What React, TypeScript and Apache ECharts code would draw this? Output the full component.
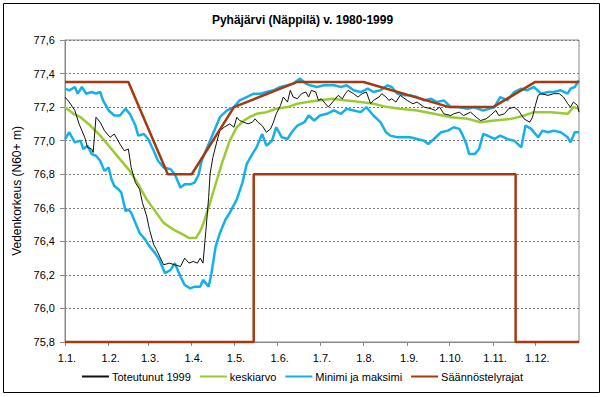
import React, { useEffect, useRef } from "react";
import * as echarts from "echarts";

const TITLE = "Pyhäjärvi (Näppilä) v. 1980-1999";
const Y_NAME = "Vedenkorkeus (N60+ m)";
const MONTH_DAYS = [31, 28, 31, 30, 31, 30, 31, 31, 30, 31, 30, 31];
const SERIES_NAMES = ["Toteutunut 1999", "keskiarvo", "Minimi ja maksimi", "Säännöstelyrajat"];
const Y_MIN = 75.8;
const Y_MAX = 77.6;
const Y_STEP = 0.2;

// [day of year index, level]
const actual1999: [number, number][] = [
  [0, 77.26], [3, 77.23], [7, 77.18], [10, 77.1], [14, 77.02], [16, 76.96], [19, 76.95], [20, 76.93],
  [22, 77.14], [25, 77.11], [28, 77.06], [32, 77.02], [35, 77.04], [39, 76.98], [42, 76.94], [45, 76.95],
  [47, 76.84], [50, 76.75], [53, 76.71], [55, 76.63], [58, 76.55], [60, 76.47], [63, 76.38], [65, 76.35],
  [70, 76.26], [74, 76.27], [78, 76.26], [82, 76.25], [85, 76.3], [88, 76.27], [91, 76.28], [94, 76.27],
  [96, 76.3], [98, 76.27], [100, 76.46], [102, 76.66], [103, 76.8], [105, 76.9], [108, 77.0], [110, 77.06],
  [113, 77.08], [117, 77.1], [120, 77.08], [122, 77.14], [124, 77.12], [127, 77.11], [130, 77.1], [133, 77.11],
  [135, 77.13], [137, 77.11], [140, 77.09], [143, 77.05], [146, 77.07], [148, 77.11], [150, 77.16], [153, 77.21],
  [155, 77.26], [158, 77.23], [160, 77.3], [162, 77.26], [165, 77.25], [168, 77.28], [171, 77.29], [173, 77.26],
  [175, 77.3], [178, 77.29], [180, 77.24], [182, 77.25], [185, 77.22], [187, 77.2], [191, 77.24], [194, 77.27],
  [197, 77.25], [199, 77.28], [201, 77.3], [205, 77.28], [208, 77.26], [211, 77.28], [214, 77.29], [217, 77.22],
  [219, 77.24], [223, 77.26], [225, 77.28], [228, 77.26], [230, 77.24], [232, 77.25], [235, 77.23], [238, 77.27],
  [243, 77.24], [247, 77.22], [250, 77.23], [255, 77.2], [260, 77.19], [263, 77.18], [266, 77.2], [269, 77.16],
  [274, 77.15], [276, 77.16], [280, 77.17], [283, 77.15], [288, 77.17], [292, 77.14], [295, 77.12], [299, 77.13],
  [302, 77.15], [306, 77.18], [308, 77.15], [312, 77.16], [315, 77.19], [319, 77.2], [322, 77.18], [326, 77.13],
  [330, 77.11], [332, 77.14], [334, 77.21], [336, 77.27], [338, 77.28], [343, 77.27], [347, 77.28], [351, 77.28],
  [354, 77.26], [357, 77.22], [359, 77.2], [361, 77.23], [364, 77.21], [365, 77.17],
];

const average: [number, number][] = [
  [0, 77.2], [6, 77.16], [11, 77.14], [18, 77.09], [25, 77.03], [32, 76.96], [39, 76.89], [46, 76.82],
  [52, 76.74], [58, 76.65], [64, 76.58], [70, 76.51], [77, 76.47], [84, 76.44], [88, 76.42], [93, 76.42],
  [96, 76.46], [98, 76.5], [103, 76.63], [108, 76.77], [112, 76.88], [117, 77.0], [122, 77.08], [127, 77.12],
  [131, 77.14], [136, 77.16], [143, 77.17], [150, 77.19], [158, 77.2], [165, 77.22], [172, 77.23], [180, 77.24],
  [190, 77.25], [200, 77.24], [210, 77.23], [219, 77.22], [229, 77.2], [238, 77.19], [250, 77.18], [262, 77.16],
  [274, 77.14], [286, 77.13], [295, 77.11], [305, 77.12], [317, 77.13], [326, 77.15], [333, 77.17], [345, 77.17],
  [357, 77.16], [361, 77.2], [365, 77.19],
];

const maximum: [number, number][] = [
  [0, 77.31], [3, 77.3], [7, 77.32], [9, 77.28], [12, 77.32], [15, 77.28], [19, 77.29], [22, 77.28],
  [25, 77.29], [27, 77.24], [31, 77.18], [35, 77.15], [39, 77.15], [43, 77.19], [46, 77.16], [50, 77.09],
  [52, 77.03], [56, 77.04], [59, 77.01], [63, 76.94], [66, 76.88], [70, 76.84], [75, 76.83], [78, 76.8],
  [82, 76.72], [85, 76.74], [89, 76.74], [92, 76.75], [95, 76.8], [97, 76.88], [101, 76.96], [105, 77.04],
  [110, 77.14], [115, 77.18], [120, 77.2], [124, 77.24], [129, 77.26], [134, 77.28], [139, 77.28], [143, 77.29],
  [148, 77.3], [153, 77.32], [158, 77.33], [162, 77.34], [167, 77.37], [171, 77.34], [174, 77.33], [179, 77.32],
  [184, 77.33], [188, 77.33], [191, 77.33], [196, 77.32], [200, 77.33], [205, 77.3], [210, 77.29], [215, 77.31],
  [219, 77.29], [224, 77.3], [229, 77.33], [232, 77.32], [236, 77.28], [241, 77.27], [245, 77.27], [250, 77.26],
  [255, 77.24], [260, 77.25], [264, 77.23], [269, 77.24], [274, 77.2], [279, 77.2], [286, 77.19], [290, 77.2],
  [297, 77.18], [305, 77.2], [309, 77.26], [314, 77.24], [319, 77.29], [324, 77.31], [328, 77.3], [333, 77.32],
  [338, 77.28], [343, 77.29], [347, 77.29], [352, 77.3], [357, 77.28], [359, 77.31], [362, 77.32], [365, 77.36],
];

const minimum: [number, number][] = [
  [0, 77.01], [3, 77.05], [7, 76.99], [11, 77.0], [13, 76.95], [16, 76.97], [19, 76.92], [22, 76.91],
  [25, 76.88], [28, 76.82], [31, 76.84], [33, 76.77], [35, 76.73], [38, 76.71], [40, 76.69], [43, 76.58],
  [45, 76.59], [47, 76.57], [50, 76.51], [53, 76.45], [57, 76.41], [60, 76.37], [64, 76.33], [67, 76.29],
  [71, 76.21], [75, 76.23], [78, 76.27], [82, 76.19], [85, 76.14], [89, 76.12], [92, 76.13], [96, 76.13],
  [98, 76.17], [102, 76.13], [104, 76.21], [107, 76.37], [110, 76.45], [114, 76.53], [117, 76.57], [122, 76.65],
  [126, 76.75], [129, 76.86], [133, 76.92], [136, 76.96], [140, 77.04], [143, 76.97], [147, 77.0], [150, 77.08],
  [154, 77.02], [158, 77.01], [161, 77.05], [165, 77.09], [170, 77.11], [173, 77.15], [177, 77.12], [181, 77.15],
  [186, 77.16], [191, 77.18], [196, 77.16], [200, 77.19], [205, 77.18], [210, 77.17], [214, 77.2], [219, 77.15],
  [224, 77.11], [228, 77.05], [231, 77.03], [236, 77.02], [241, 77.02], [245, 77.02], [250, 77.01], [255, 77.0],
  [258, 76.98], [262, 77.01], [267, 77.05], [272, 77.06], [276, 77.08], [280, 77.07], [282, 77.04], [285, 76.98],
  [287, 76.92], [291, 76.92], [294, 76.95], [297, 77.04], [300, 77.03], [305, 77.01], [309, 77.03], [314, 77.01],
  [319, 77.0], [324, 76.96], [327, 77.09], [331, 77.07], [336, 77.02], [339, 77.06], [343, 77.05], [347, 77.06],
  [352, 77.05], [357, 77.02], [359, 76.99], [362, 77.05], [365, 77.05],
];

const upperLimit: [number, number][] = [
  [0, 77.35], [45, 77.35], [73, 76.8], [90, 76.8], [120, 77.2], [165, 77.35], [212, 77.35], [273, 77.2],
  [304, 77.2], [334, 77.35], [365, 77.35],
];

const lowerLimit: [number, number][] = [
  [0, 75.8], [134, 75.8], [134, 76.8], [320, 76.8], [320, 75.8], [365, 75.8],
];

const COLORS = {
  actual: "#111111",
  average: "#99cc33",
  minmax: "#14b0ea",
  limits: "#a8380f",
};

// day labels "d.m." for one year plus the closing 1.1.
const categories: string[] = [];
const monthStarts = new Set<number>();
MONTH_DAYS.forEach((n, m) => {
  for (let d = 1; d <= n; d++) {
    if (d === 1) monthStarts.add(categories.length);
    categories.push(`${d}.${m + 1}.`);
  }
});
categories.push("1.1.");

const FONT = "Liberation Sans, Arial, sans-serif";

export default function App() {
  const ref = useRef<HTMLDivElement>(null);
  useEffect(() => {
    if (!ref.current) return;
    const chart = echarts.init(ref.current, undefined, { renderer: "svg" });
    const lineBase = { type: "line" as const, symbol: "none", showSymbol: false, smooth: false };
    chart.setOption({
      animation: false,
      backgroundColor: "#ffffff",
      textStyle: { fontFamily: FONT },
      title: {
        text: TITLE,
        left: "center",
        top: 9,
        textStyle: { fontSize: 12, fontWeight: "bold", color: "#000", fontFamily: FONT },
      },
      graphic: [
        {
          type: "rect",
          shape: { x: 3.5, y: 3.5, width: 596, height: 389 },
          style: { fill: "none", stroke: "#000", lineWidth: 1 },
          silent: true,
        },
      ],
      legend: {
        data: SERIES_NAMES,
        bottom: 10,
        left: "center",
        icon: "rect",
        itemWidth: 27,
        itemHeight: 2,
        itemGap: 9,
        textStyle: { fontSize: 11, color: "#000", fontFamily: FONT, padding: [0, 0, 0, -2] },
      },
      grid: {
        left: 65,
        right: 26,
        top: 40,
        bottom: 55,
        show: true,
        borderColor: "#8a8a8a",
        borderWidth: 1,
      },
      xAxis: {
        type: "category",
        data: categories,
        boundaryGap: false,
        axisLine: { lineStyle: { color: "#8a8a8a", width: 1 } },
        axisTick: {
          interval: (i: number) => monthStarts.has(i),
          length: 4,
          lineStyle: { color: "#8a8a8a" },
        },
        axisLabel: {
          interval: (i: number) => monthStarts.has(i),
          color: "#000",
          fontSize: 11,
          fontFamily: FONT,
          margin: 10,
          padding: [0, 0, 0, 4],
        },
        splitLine: { show: false },
      },
      yAxis: {
        type: "value",
        min: Y_MIN,
        max: Y_MAX,
        interval: Y_STEP,
        name: Y_NAME,
        nameLocation: "middle",
        nameGap: 37,
        nameTextStyle: { fontSize: 12, color: "#000", fontFamily: FONT },
        axisLine: { show: true, lineStyle: { color: "#8a8a8a" } },
        axisTick: { show: true, length: 5, lineStyle: { color: "#8a8a8a" } },
        axisLabel: {
          color: "#000",
          fontSize: 11,
          fontFamily: FONT,
          margin: 10,
          formatter: (v: number) => v.toFixed(1).replace(".", ","),
        },
        splitLine: { lineStyle: { color: "#7a7a7a", type: [2, 2], width: 1 } },
      },
      series: [
        { ...lineBase, name: SERIES_NAMES[0], data: actual1999, lineStyle: { color: COLORS.actual, width: 1 }, itemStyle: { color: COLORS.actual }, z: 3 },
        { ...lineBase, name: SERIES_NAMES[1], data: average, lineStyle: { color: COLORS.average, width: 2.5 }, itemStyle: { color: COLORS.average }, z: 2 },
        { ...lineBase, name: SERIES_NAMES[2], data: maximum, lineStyle: { color: COLORS.minmax, width: 2.5 }, itemStyle: { color: COLORS.minmax }, z: 2 },
        { ...lineBase, name: SERIES_NAMES[2], data: minimum, lineStyle: { color: COLORS.minmax, width: 2.5 }, itemStyle: { color: COLORS.minmax }, z: 2 },
        { ...lineBase, name: SERIES_NAMES[3], data: upperLimit, lineStyle: { color: COLORS.limits, width: 2.5 }, itemStyle: { color: COLORS.limits }, z: 4 },
        { ...lineBase, name: SERIES_NAMES[3], data: lowerLimit, clip: false, lineStyle: { color: COLORS.limits, width: 2.5 }, itemStyle: { color: COLORS.limits }, z: 4 },
      ],
    });
    return () => chart.dispose();
  }, []);
  return (
    <div
      ref={ref}
      style={{ position: "absolute", left: 0, top: 0, width: 605, height: 397, background: "#fff" }}
    />
  );
}
